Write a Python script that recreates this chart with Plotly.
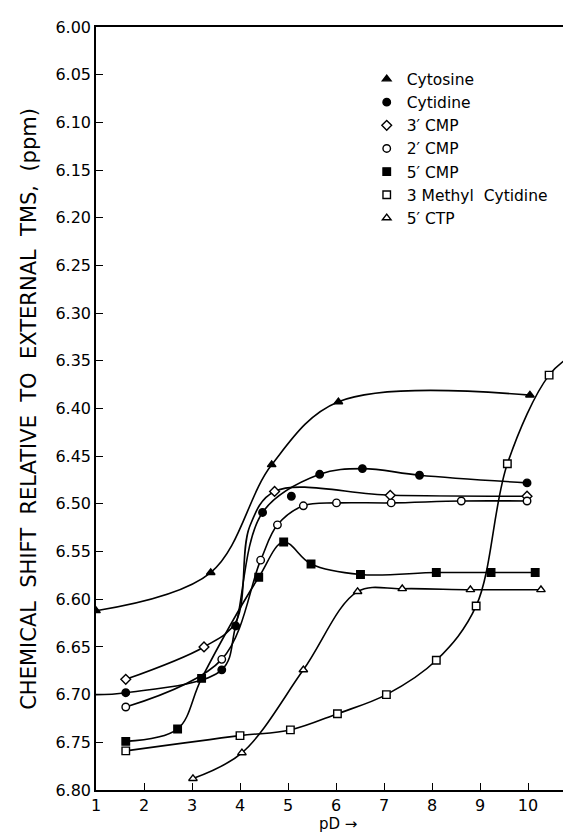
import plotly.graph_objects as go

# ---- data (pD, chemical shift ppm) ----
cytosine_x = [1.0, 3.39, 4.66, 6.05, 10.04]
cytosine_y = [6.612, 6.572, 6.459, 6.393, 6.386]

# first cytidine point is where the curve meets the axis (no marker drawn there)
cytidine_x = [1.0, 1.62, 3.62, 3.91, 4.47, 5.66, 6.55, 7.74, 9.98]
cytidine_y = [6.700, 6.698, 6.674, 6.628, 6.509, 6.469, 6.463, 6.470, 6.478]
cytidine_off_x = [5.07]
cytidine_off_y = [6.492]

cmp3_x = [1.62, 3.25, 4.72, 7.13, 9.98]
cmp3_y = [6.684, 6.650, 6.487, 6.491, 6.492]
# unmarked points read along the steep part of the 3' CMP curve
cmp3_curve_x = [3.91, 4.20]
cmp3_curve_y = [6.624, 6.524]

cmp2_x = [1.62, 3.62, 4.43, 4.78, 5.32, 6.01, 7.15, 8.61, 9.98]
cmp2_y = [6.713, 6.663, 6.559, 6.522, 6.502, 6.499, 6.499, 6.497, 6.497]

cmp5_x = [1.62, 2.70, 3.20, 4.39, 4.91, 5.48, 6.51, 8.09, 9.23, 10.15]
cmp5_y = [6.749, 6.736, 6.683, 6.577, 6.540, 6.563, 6.574, 6.572, 6.572, 6.572]

methyl_x = [1.62, 4.00, 5.05, 6.03, 7.05, 8.09, 8.92, 9.57, 10.44, 10.98]
methyl_y = [6.759, 6.743, 6.737, 6.720, 6.700, 6.664, 6.607, 6.458, 6.365, 6.342]

ctp5_x = [3.02, 4.04, 5.32, 6.45, 7.38, 8.80, 10.27]
ctp5_y = [6.788, 6.761, 6.674, 6.592, 6.589, 6.590, 6.590]

series_names = ["Cytosine", "Cytidine", "3\u2032 CMP", "2\u2032 CMP", "5\u2032 CMP",
                "3 Methyl  Cytidine", "5\u2032 CTP"]
x_ticks = [1, 2, 3, 4, 5, 6, 7, 8, 9, 10, 11]
x_tick_labels = ["1", "2", "3", "4", "5", "6", "7", "8", "9", "10", "11"]
y_ticks = [6.00, 6.05, 6.10, 6.15, 6.20, 6.25, 6.30, 6.35, 6.40, 6.45, 6.50,
           6.55, 6.60, 6.65, 6.70, 6.75, 6.80]

FONT = "DejaVu Sans"
fig = go.Figure()

line_style = dict(color="black", width=1.6, shape="spline", smoothing=1.0)


def merged(xs, ys, extra_x, extra_y):
    pts = sorted(zip(list(xs) + list(extra_x), list(ys) + list(extra_y)))
    return [p[0] for p in pts], [p[1] for p in pts]


cmp3_line_x, cmp3_line_y = merged(cmp3_x, cmp3_y, cmp3_curve_x, cmp3_curve_y)

# (line x, line y, marker x, marker y, symbol, filled)
curves = [
    (cytosine_x, cytosine_y, cytosine_x, cytosine_y, "triangle-up", True),
    (cytidine_x, cytidine_y, cytidine_x[1:] + cytidine_off_x,
     cytidine_y[1:] + cytidine_off_y, "circle", True),
    (cmp3_line_x, cmp3_line_y, cmp3_x, cmp3_y, "diamond", False),
    (cmp2_x, cmp2_y, cmp2_x, cmp2_y, "circle", False),
    (cmp5_x, cmp5_y, cmp5_x, cmp5_y, "square", True),
    (methyl_x, methyl_y, methyl_x, methyl_y, "square", False),
    (ctp5_x, ctp5_y, ctp5_x, ctp5_y, "triangle-up", False),
]

for (lx, ly, mx, my, sym, filled), name in zip(curves, series_names):
    fig.add_trace(go.Scatter(x=lx, y=ly, mode="lines", line=line_style,
                             showlegend=False, hoverinfo="skip"))
for (lx, ly, mx, my, sym, filled), name in zip(curves, series_names):
    fig.add_trace(go.Scatter(
        x=mx, y=my, mode="markers", name=name,
        marker=dict(symbol=sym, size=7.5, color="black" if filled else "white",
                    line=dict(color="black", width=1.4)),
    ))

fig.update_layout(
    width=571, height=834,
    margin=dict(l=88, r=3, t=19, b=52),
    paper_bgcolor="white", plot_bgcolor="white",
    font=dict(family=FONT, color="black", size=16),
    legend=dict(x=0.564, y=0.9536, xanchor="left", yanchor="top",
                bgcolor="rgba(0,0,0,0)", font=dict(family=FONT, size=15.5),
                itemsizing="trace"),
    annotations=[
        dict(text="CHEMICAL  SHIFT  RELATIVE  TO  EXTERNAL  TMS,  (ppm)",
             xref="paper", yref="paper", x=-0.141, y=0.5, textangle=-90,
             xanchor="center", yanchor="middle", showarrow=False,
             font=dict(family=FONT, size=21)),
        dict(text="pD \u2192", xref="paper", yref="paper", x=0.505, y=-0.0445,
             xanchor="center", yanchor="middle", showarrow=False,
             font=dict(family=FONT, size=15)),
    ],
)
fig.update_xaxes(
    range=[1, 11], tickvals=x_ticks, ticktext=x_tick_labels,
    ticks="inside", ticklen=7, tickwidth=1.3, tickcolor="black",
    showline=True, linecolor="black", linewidth=1.6, mirror=True,
    showgrid=False, zeroline=False, automargin=False,
    ticklabeloverflow="allow",
    tickfont=dict(family=FONT, size=16),
)
fig.update_yaxes(
    range=[6.80, 6.00], tickvals=y_ticks, tickformat=".2f",
    ticks="inside", ticklen=7, tickwidth=1.3, tickcolor="black",
    showline=True, linecolor="black", linewidth=1.6, mirror="ticks",
    showgrid=False, zeroline=False, automargin=False,
    tickfont=dict(family=FONT, size=16),
)

fig.write_html("out.html")
